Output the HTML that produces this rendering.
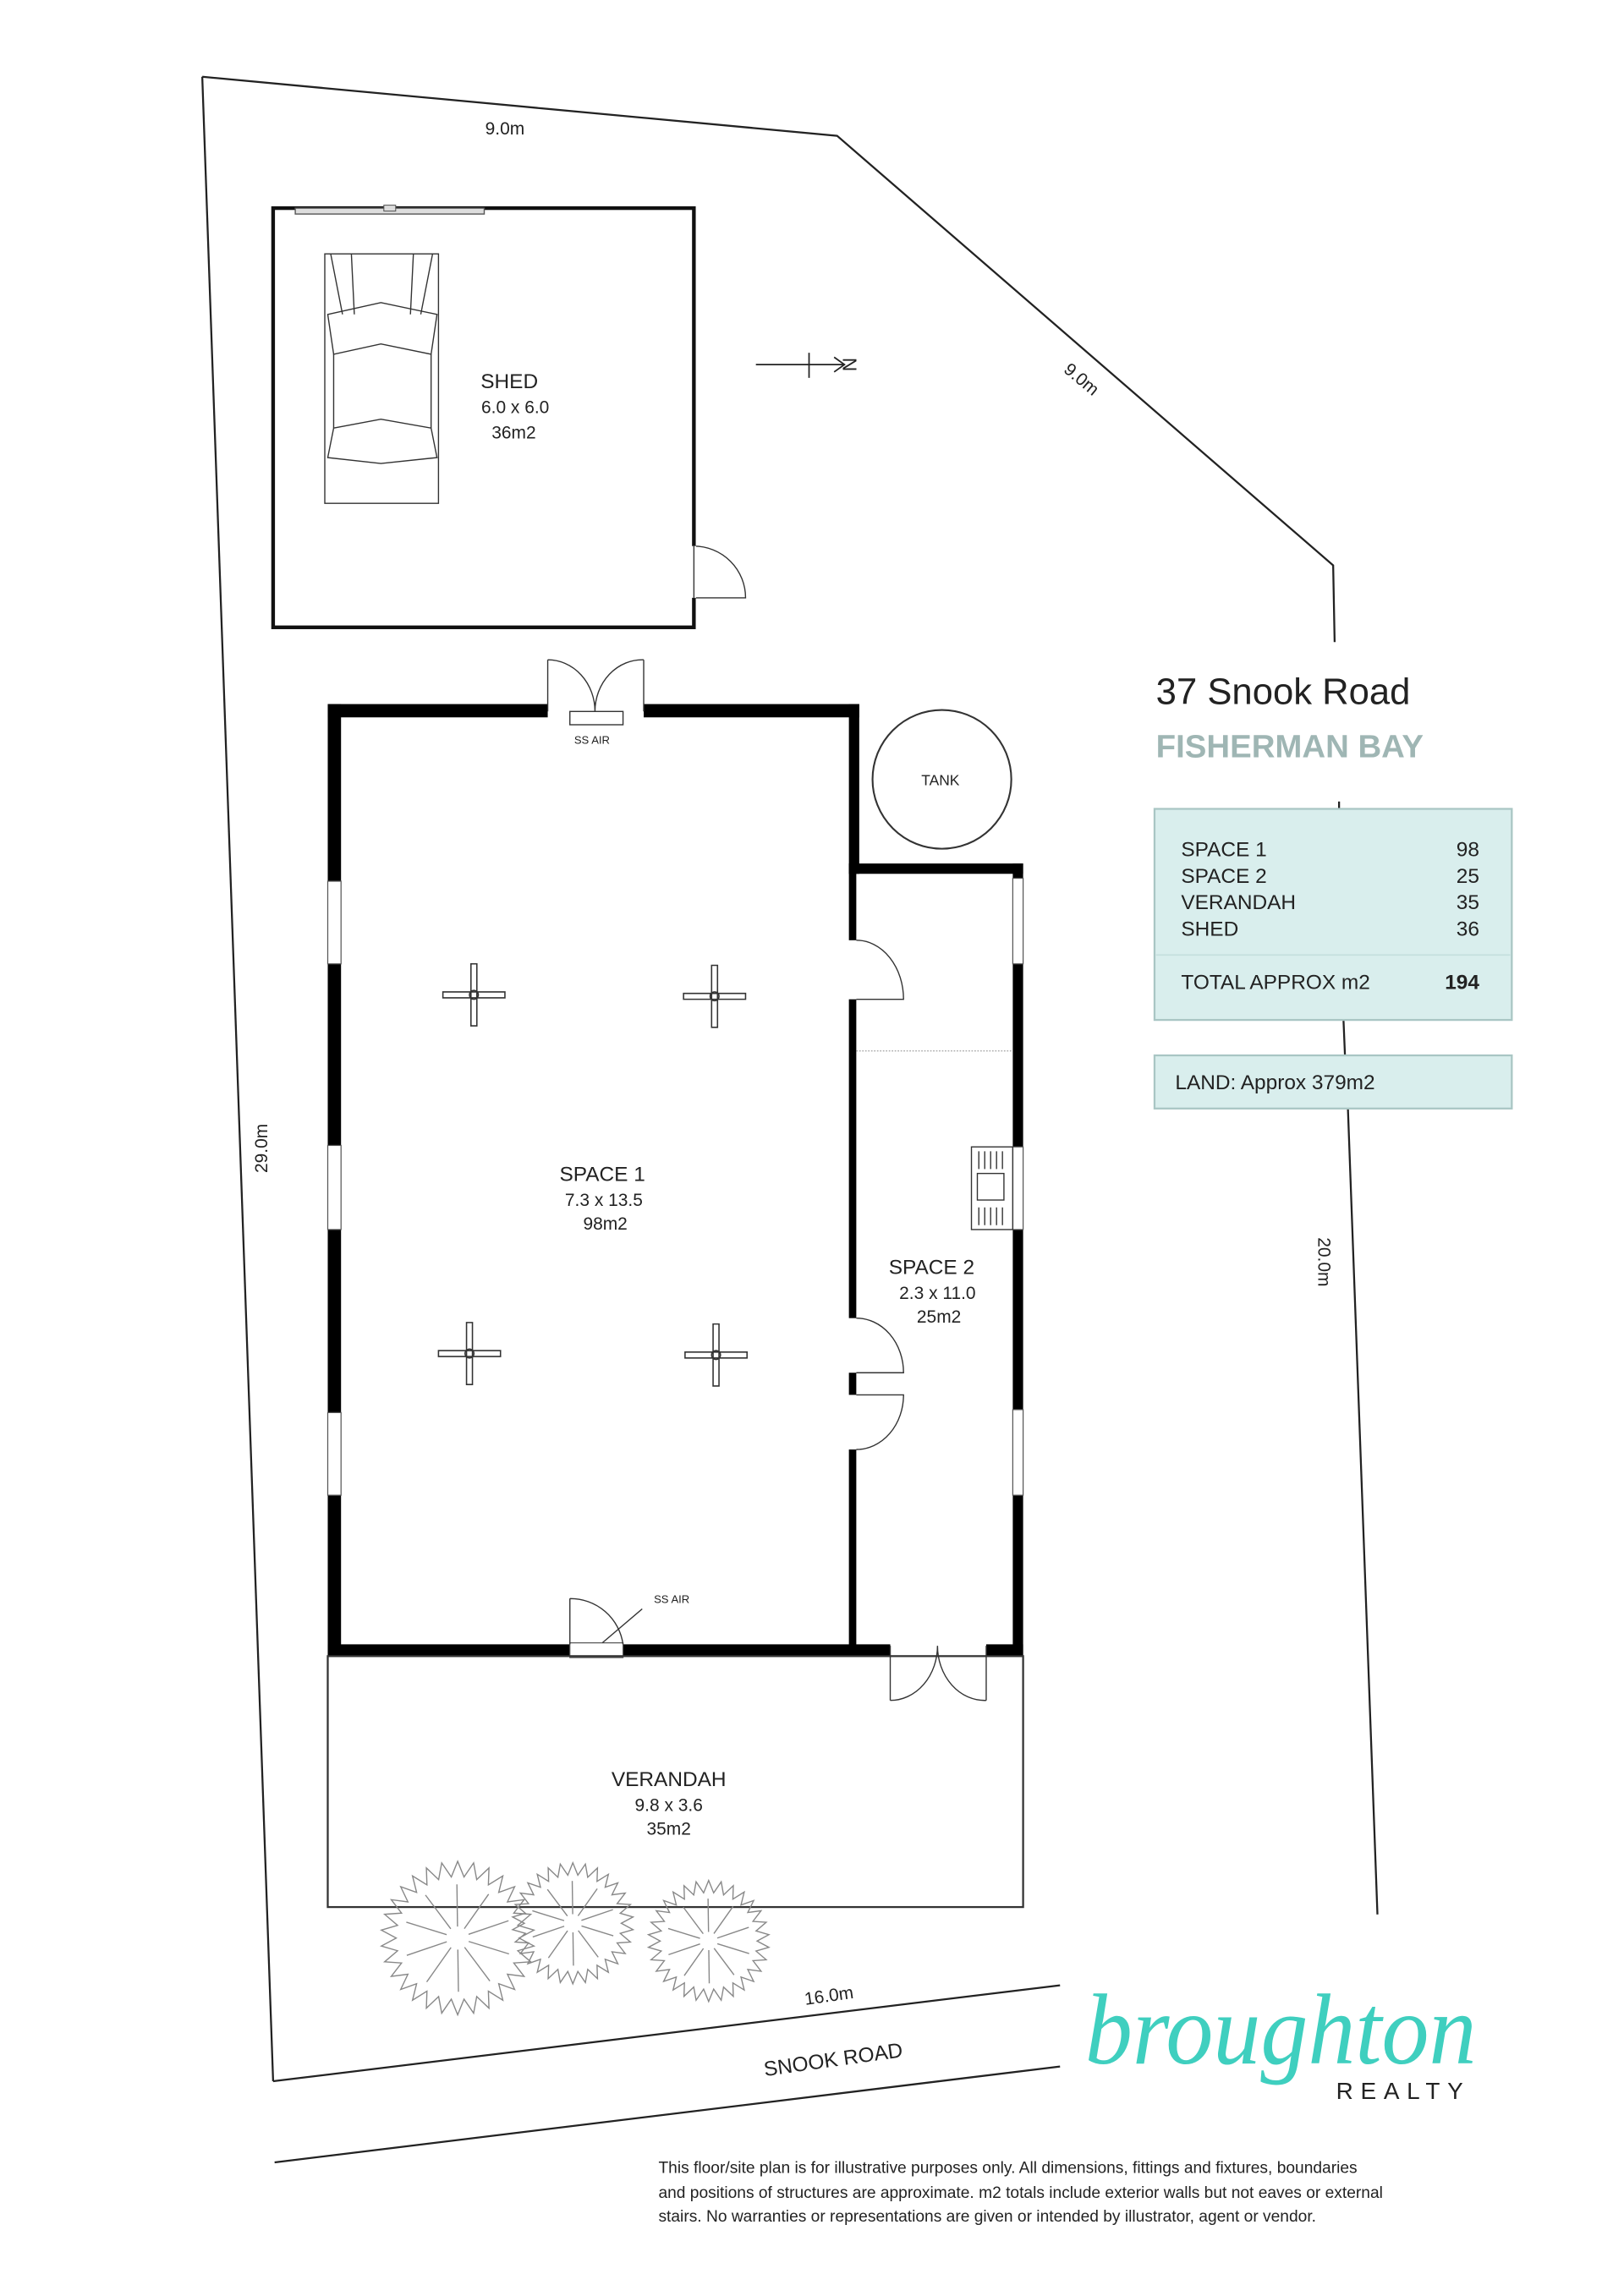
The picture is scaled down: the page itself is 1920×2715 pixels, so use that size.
<!DOCTYPE html>
<html><head><meta charset="utf-8"><style>
html,body{margin:0;padding:0;background:#fff;}
svg{display:block;}
text{font-family:"Liberation Sans",sans-serif;fill:#222;}
</style></head><body>
<svg id="s" width="1920" height="2715" viewBox="0 0 1100 1555.5" preserveAspectRatio="none" xmlns="http://www.w3.org/2000/svg">
<g fill="none" stroke="#222" stroke-width="1.3">
<polyline points="137,52 567,92 903,383 904,435"/>
<line x1="137" y1="52" x2="185" y2="1410"/>
<line x1="185" y1="1410" x2="718" y2="1345"/>
<line x1="186" y1="1465" x2="718" y2="1400"/>
<line x1="907" y1="543" x2="907" y2="549"/>
<line x1="910" y1="691" x2="911" y2="715"/>
<line x1="913" y1="751" x2="933" y2="1297"/>
</g>
<g font-size="12">
<text x="342" y="91" text-anchor="middle">9.0m</text>
<text transform="translate(730,260) rotate(40)" text-anchor="middle">9.0m</text>
<text transform="translate(181,778) rotate(-90)" text-anchor="middle">29.0m</text>
<text transform="translate(893,855) rotate(90)" text-anchor="middle">20.0m</text>
<text transform="translate(562,1356) rotate(-8)" text-anchor="middle">16.0m</text>
<text transform="translate(565,1400) rotate(-8)" text-anchor="middle" font-size="14">SNOOK ROAD</text>
</g>
<rect x="185" y="141" width="285" height="284" fill="none" stroke="#111" stroke-width="2.5"/>
<rect x="200" y="141" width="128" height="4" fill="#ddd" stroke="#555" stroke-width="0.8"/>
<rect x="260" y="139" width="8" height="4" fill="#ddd" stroke="#555" stroke-width="0.6"/>
<g fill="none" stroke="#333" stroke-width="0.8">
<rect x="220" y="172" width="77" height="169"/>
<path d="M224,172 L232,213 M293,172 L285,213 M238,172 L240,213 M280,172 L278,213"/>
<path d="M222,213 L258,205 L296,213 L292,240 L258,233 L226,240 Z"/>
<path d="M226,240 L226,290 M292,240 L292,290"/>
<path d="M226,290 L258,284 L292,290 L296,310 L258,314 L222,310 Z"/>
<path d="M470,370 A35,35 0 0 1 505,405 L470,405"/>
</g>
<line x1="470" y1="370" x2="470" y2="405" stroke="#fff" stroke-width="3"/>
<line x1="470" y1="370" x2="470" y2="405" stroke="#333" stroke-width="0.8"/>
<text x="345" y="263" font-size="14" text-anchor="middle">SHED</text>
<text x="349" y="280" font-size="12" text-anchor="middle">6.0 x 6.0</text>
<text x="348" y="297" font-size="12" text-anchor="middle">36m2</text>
<g stroke="#222" stroke-width="1" fill="none">
<line x1="512" y1="247" x2="572" y2="247"/><line x1="548" y1="239" x2="548" y2="256"/>
<polyline points="565,242 572,247 565,252"/></g>
<text transform="translate(580,247) rotate(-90)" font-size="13" text-anchor="middle">N</text>
<g fill="#000">
<rect x="222" y="477" width="9" height="645"/>
<rect x="222" y="477" width="360" height="9"/>
<rect x="575" y="477" width="7" height="115"/>
<rect x="575" y="585" width="118" height="7"/>
<rect x="686" y="585" width="7" height="537"/>
<rect x="222" y="1114" width="471" height="8"/>
<rect x="575" y="585" width="5" height="530"/>
</g>
<g fill="#fff" stroke="#555" stroke-width="0.7">
<rect x="222" y="597" width="9" height="56"/><rect x="222" y="776" width="9" height="57"/><rect x="222" y="957" width="9" height="56"/>
<rect x="686" y="595" width="7" height="58"/><rect x="686" y="955" width="7" height="58"/><rect x="686" y="777" width="7" height="56"/>
<rect x="371" y="476" width="65" height="11" stroke="none"/>
<rect x="574" y="637" width="7" height="40" stroke="none"/>
<rect x="574" y="893" width="7" height="37" stroke="none"/>
<rect x="574" y="945" width="7" height="37" stroke="none"/>
<rect x="386" y="1113" width="36" height="10"/>
<rect x="603" y="1113" width="65" height="10" stroke="none"/>
</g>
<g fill="none" stroke="#333" stroke-width="0.8">
<path d="M371,447 L371,482 M436,447 L436,482 M371,447 A32,35 0 0 1 403,482 M436,447 A32,35 0 0 0 403,482"/>
<rect x="386" y="482" width="36" height="9"/>
<path d="M580,637 A32,40 0 0 1 612,677 L580,677"/>
<path d="M580,893 A32,37 0 0 1 612,930 L580,930"/>
<path d="M580,945 L612,945 A32,37 0 0 1 580,982"/>
<path d="M386,1083 A36,36 0 0 1 422,1114 M386,1083 L386,1114 M435,1090 L408,1113"/>
<path d="M603,1115 L603,1152 M668,1115 L668,1152 M603,1152 A32,37 0 0 0 635,1115 M668,1152 A32,37 0 0 1 635,1115"/>
<line x1="580" y1="712" x2="686" y2="712" stroke="#aaa" stroke-dasharray="1 1"/>
<rect x="658" y="777" width="28" height="56"/><rect x="662" y="795" width="18" height="18"/>
<path d="M663,780 v12 M667,780 v12 M671,780 v12 M675,780 v12 M679,780 v12 M663,818 v12 M667,818 v12 M671,818 v12 M675,818 v12 M679,818 v12"/>
<rect x="222" y="1122" width="471" height="170" stroke-width="1.3"/>
<circle cx="638" cy="528" r="47" stroke-width="1.2"/>
</g>
<g stroke="#333" stroke-width="0.9" fill="none" id="fans"></g>
<text x="401" y="504" font-size="7.5" text-anchor="middle">SS AIR</text>
<text x="455" y="1086" font-size="7.5" text-anchor="middle">SS AIR</text>
<text x="637" y="532" font-size="10" text-anchor="middle">TANK</text>
<g text-anchor="middle">
<text x="408" y="800" font-size="14">SPACE 1</text><text x="409" y="817" font-size="12">7.3 x 13.5</text><text x="410" y="833" font-size="12">98m2</text>
<text x="631" y="863" font-size="14">SPACE 2</text><text x="635" y="880" font-size="12">2.3 x 11.0</text><text x="636" y="896" font-size="12">25m2</text>
<text x="453" y="1210" font-size="14">VERANDAH</text><text x="453" y="1227" font-size="12">9.8 x 3.6</text><text x="453" y="1243" font-size="12">35m2</text>
</g>
<g id="trees" fill="none" stroke="#888" stroke-width="0.8"></g>
<text x="783" y="477" font-size="25" fill="#222">37 Snook Road</text>
<text x="783" y="513" font-size="22" font-weight="bold" style="fill:#9fb6b4">FISHERMAN BAY</text>
<rect x="782" y="548" width="242" height="143" fill="#d9eeed" stroke="#a9c6c4" stroke-width="1.3"/>
<line x1="783" y1="647" x2="1023" y2="647" stroke="#c5e0de" stroke-width="1"/>
<g font-size="14">
<text x="800" y="580">SPACE 1</text><text x="800" y="598">SPACE 2</text><text x="800" y="616">VERANDAH</text><text x="800" y="634">SHED</text>
<text x="1002" y="580" text-anchor="end">98</text><text x="1002" y="598" text-anchor="end">25</text><text x="1002" y="616" text-anchor="end">35</text><text x="1002" y="634" text-anchor="end">36</text>
<text x="800" y="670">TOTAL APPROX m2</text><text x="1002" y="670" text-anchor="end" font-weight="bold">194</text>
</g>
<rect x="782" y="715" width="242" height="36" fill="#d9eeed" stroke="#a9c6c4" stroke-width="1.3"/>
<text x="796" y="738" font-size="14">LAND: Approx 379m2</text>
<text x="735" y="1398" font-size="68" font-style="italic" style="fill:#3fcfbf;font-family:'Liberation Serif',serif" textLength="265" lengthAdjust="spacingAndGlyphs">broughton</text>
<text x="905" y="1422" font-size="16" letter-spacing="5">REALTY</text>
<g font-size="11">
<text x="446" y="1472">This floor/site plan is for illustrative purposes only. All dimensions, fittings and fixtures, boundaries</text>
<text x="446" y="1489">and positions of structures are approximate. m2 totals include exterior walls but not eaves or external</text>
<text x="446" y="1505">stairs. No warranties or representations are given or intended by illustrator, agent or vendor.</text>
</g>
</svg>
<script>
var NS="http://www.w3.org/2000/svg";
var f=document.getElementById("fans");
[[321,674],[484,675],[318,917],[485,918]].forEach(function(c){
 var x=c[0],y=c[1];
 var p=document.createElementNS(NS,"path");
 p.setAttribute("d","M"+(x-21)+","+(y-2)+"h42v4h-42z M"+(x-2)+","+(y-21)+"v42h4v-42z");
 f.appendChild(p);
 var ci=document.createElementNS(NS,"circle");ci.setAttribute("cx",x);ci.setAttribute("cy",y);ci.setAttribute("r",3);f.appendChild(ci);
});
var t=document.getElementById("trees");
[[310,1313,52],[388,1303,41],[480,1315,41]].forEach(function(c){
 var pts=[],n=30;
 for(var i=0;i<n*2;i++){var a=i*Math.PI/n;var r=(i%2?c[2]:c[2]*0.8);pts.push((c[0]+r*Math.cos(a)).toFixed(1)+","+(c[1]+r*Math.sin(a)).toFixed(1));}
 var p=document.createElementNS(NS,"polygon");p.setAttribute("points",pts.join(" "));t.appendChild(p);
 for(var j=0;j<10;j++){var a=j*Math.PI/5+0.3;var l=document.createElementNS(NS,"line");
  l.setAttribute("x1",c[0]+c[2]*0.15*Math.cos(a));l.setAttribute("y1",c[1]+c[2]*0.15*Math.sin(a));
  l.setAttribute("x2",c[0]+c[2]*0.7*Math.cos(a));l.setAttribute("y2",c[1]+c[2]*0.7*Math.sin(a));t.appendChild(l);}
});
</script>
</body></html>
